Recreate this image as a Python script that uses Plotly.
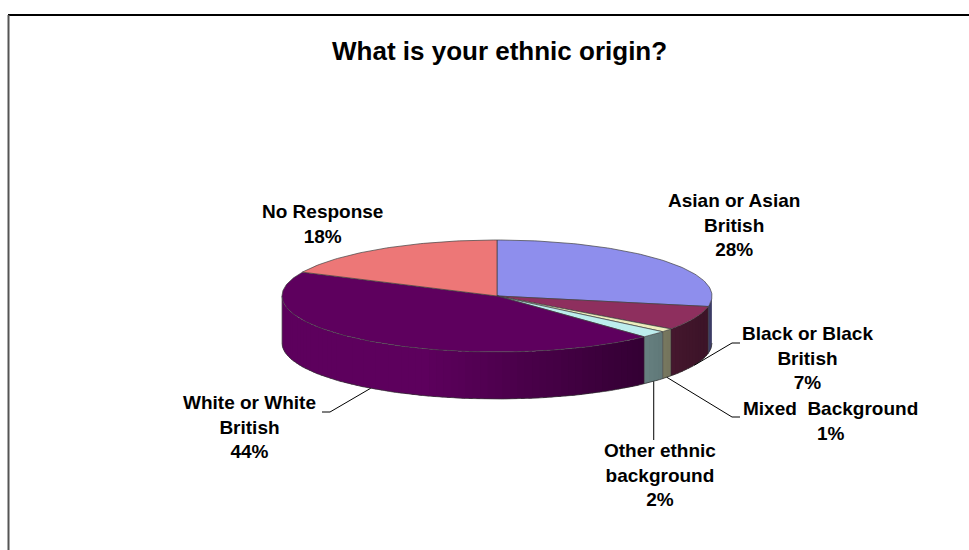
import numpy as np
import plotly.graph_objects as go

# ---- data ----
categories = ["Asian or Asian British", "Black or Black British", "Mixed  Background",
              "Other ethnic background", "White or White British", "No Response"]
values = [28, 7, 1, 2, 44, 18]
label_names = ["Asian or Asian<br>British", "Black or Black<br>British", "Mixed\u00a0 Background",
               "Other ethnic<br>background", "White or White<br>British", "No Response"]
colors = ["#9999FF", "#993366", "#FFFFCC", "#CCFFFF", "#660066", "#FF8080"]
title_text = "What is your ethnic origin?"

# ---- layout / geometry (not data) ----
CX, CY, RX, RY, DEPTH = 497, 296, 215, 56, 47
label_xy = [(734, 225), (807, 358), (830, 421), (660, 475), (249, 427), (322, 224)]
# label-side end of leader lines (None = no leader)
leader_tail = [None, [(732, 343), (740, 343)], [(732, 417), (740, 417)], "down:440",
               [(330, 412), (322, 412)], None]
FONT = "Liberation Sans, Arial, sans-serif"


def pt(theta_deg, drop=0.0):
    t = np.radians(theta_deg)
    return CX + RX * np.sin(t), CY - RY * np.cos(t) + drop


def arc(a0, a1, drop=0.0, step=1.0):
    n = max(2, int(np.ceil(abs(a1 - a0) / step)) + 1)
    th = np.linspace(a0, a1, n)
    xs, ys = zip(*[pt(t, drop) for t in th])
    return list(xs), list(ys)


def scale_hex(h, f):
    h = h.lstrip("#")
    r, g, b = (int(h[i:i + 2], 16) for i in (0, 2, 4))
    return "rgb(%d,%d,%d)" % (min(255, r * f), min(255, g * f), min(255, b * f))


def shade(theta_deg):
    return float(np.clip(0.78 - 0.4 * np.sin(np.radians(theta_deg)), 0.4, 0.92))


total = float(sum(values))
bounds = [0.0]
for v in values:
    bounds.append(bounds[-1] + 360.0 * v / total)

fig = go.Figure()

# ---- side walls (front half only, 90..270 deg) ----
for i, c in enumerate(colors):
    a0, a1 = max(bounds[i], 90.0), min(bounds[i + 1], 270.0)
    if a1 <= a0:
        continue
    n = max(1, int(np.ceil((a1 - a0) / 2.0)))
    edges = np.linspace(a0, a1, n + 1)
    for s0, s1 in zip(edges[:-1], edges[1:]):
        e1 = min(s1 + 1.0, a1)  # overlap next strip to hide seams
        tx, ty = arc(s0, e1, 0, 0.5)
        bx, by = arc(e1, s0, DEPTH, 0.5)
        col = scale_hex(c, shade((s0 + s1) / 2))
        fig.add_trace(go.Scatter(x=tx + bx + [tx[0]], y=ty + by + [ty[0]], mode="lines",
                                 fill="toself", fillcolor=col, line=dict(width=0),
                                 hoverinfo="skip", showlegend=False))

# wall outline
bx, by = arc(90, 270, DEPTH)
fig.add_trace(go.Scatter(x=bx, y=by, mode="lines", line=dict(color="#303030", width=0.7),
                         hoverinfo="skip", showlegend=False))
for b in bounds[1:-1] + [270.0]:
    if 90 <= b <= 270:
        x0, y0 = pt(b)
        x1, y1 = pt(b, DEPTH)
        fig.add_trace(go.Scatter(x=[x0, x1], y=[y0, y1], mode="lines",
                                 line=dict(color="#303030", width=0.6),
                                 hoverinfo="skip", showlegend=False))

# ---- top faces ----
for i, c in enumerate(colors):
    ax, ay = arc(bounds[i], bounds[i + 1])
    fig.add_trace(go.Scatter(x=[CX] + ax + [CX], y=[CY] + ay + [CY], mode="lines",
                             fill="toself", fillcolor=scale_hex(c, 0.93),
                             line=dict(color="#404040", width=0.7),
                             name=categories[i], hoverinfo="name", showlegend=False))

# ---- leader lines ----
for i in range(len(values)):
    tail = leader_tail[i]
    if tail is None:
        continue
    mid = (bounds[i] + bounds[i + 1]) / 2
    px, py = pt(mid, DEPTH)
    if isinstance(tail, str):
        yend = float(tail.split(":")[1])
        xs, ys = [px, px], [py, yend]
    else:
        xs = [px] + [p[0] for p in tail]
        ys = [py] + [p[1] for p in tail]
    fig.add_trace(go.Scatter(x=xs, y=ys, mode="lines", line=dict(color="black", width=1),
                             hoverinfo="skip", showlegend=False))

# ---- labels ----
annotations = []
for i, v in enumerate(values):
    pct = int(round(100.0 * v / total))
    annotations.append(dict(x=label_xy[i][0], y=label_xy[i][1], xref="x", yref="y",
                            text="<b>%s<br>%d%%</b>" % (label_names[i], pct),
                            showarrow=False, xanchor="center", yanchor="middle",
                            font=dict(family=FONT, size=19, color="black")))
annotations.append(dict(x=499, y=51, xref="x", yref="y", text="<b>%s</b>" % title_text,
                        showarrow=False, xanchor="center", yanchor="middle",
                        font=dict(family=FONT, size=26, color="black")))

shapes = [
    dict(type="line", xref="x", yref="y", x0=8, y0=15, x1=969, y1=15,
         line=dict(color="black", width=2)),
    dict(type="line", xref="x", yref="y", x0=8.5, y0=15, x1=8.5, y1=550,
         line=dict(color="#555555", width=2)),
]

fig.update_layout(
    width=969, height=550, margin=dict(l=0, r=0, t=0, b=0),
    paper_bgcolor="white", plot_bgcolor="white",
    xaxis=dict(range=[0, 969], visible=False, fixedrange=True),
    yaxis=dict(range=[550, 0], visible=False, fixedrange=True),
    annotations=annotations, shapes=shapes,
)

fig.write_html("out.html")
